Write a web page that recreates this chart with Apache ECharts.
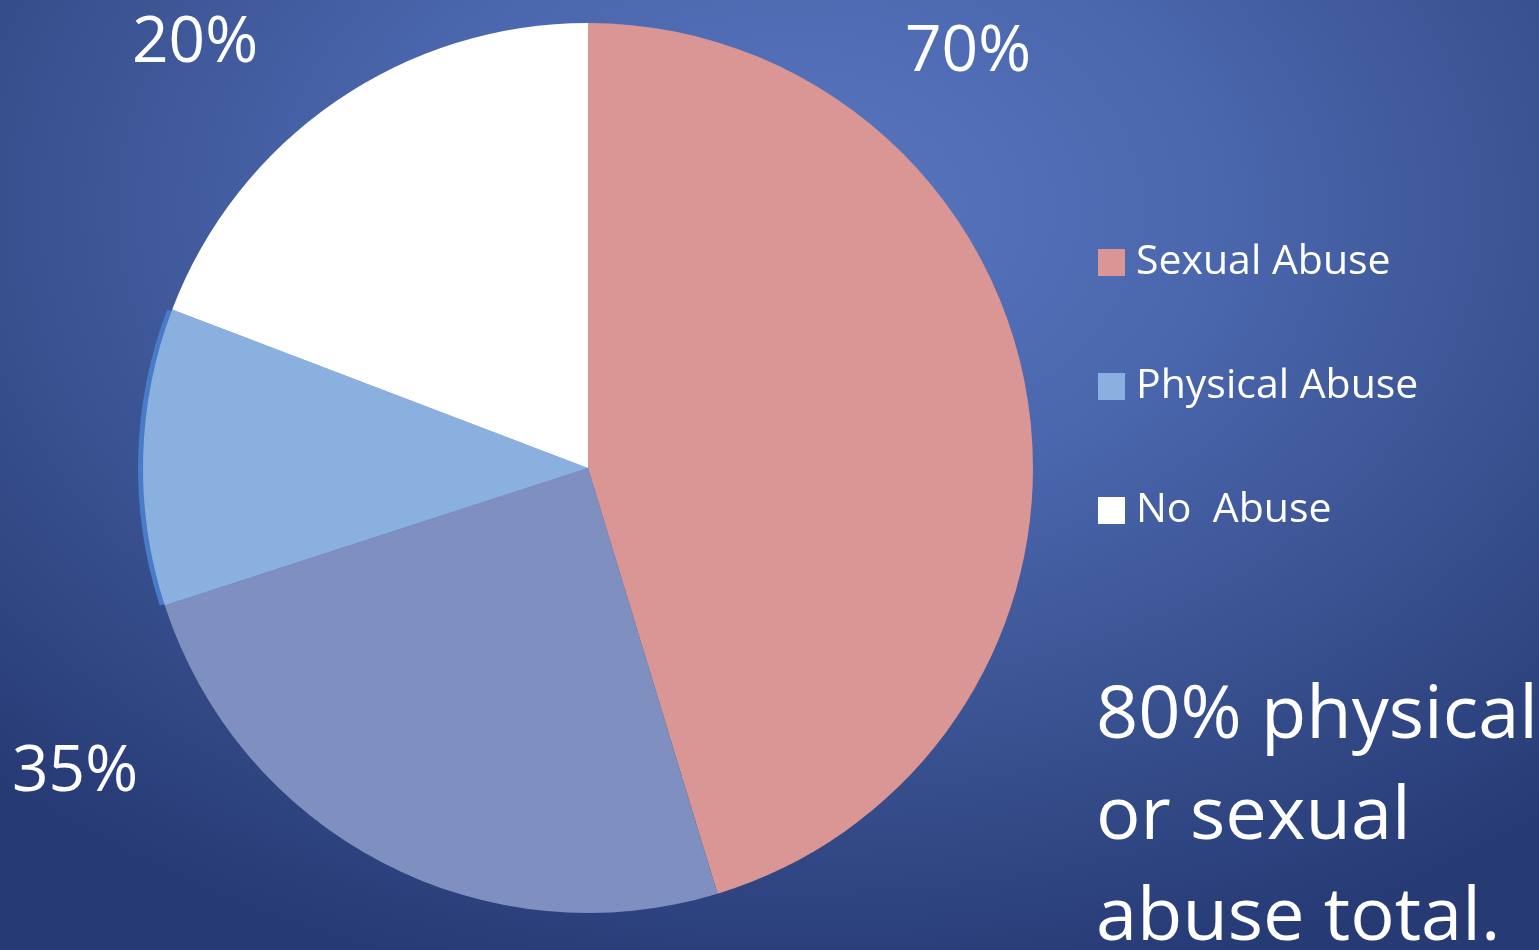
<!DOCTYPE html>
<html>
<head>
<meta charset="utf-8">
<script src="https://cdn.jsdelivr.net/npm/echarts@6/dist/echarts.min.js"></script>
<style>
  html, body { margin: 0; padding: 0; }
  #chart {
    width: 1539px; height: 950px;
    background: radial-gradient(ellipse 75% 85% at 52% 22%, #5876bf 0%, #4b67ae 35%, #3a5392 65%, #263a74 100%);
  }
</style>
</head>
<body>
<div id="chart"></div>
<script>
// slice names, clockwise from 12 o'clock
const sliceNames = ['Sexual Abuse', '', 'Physical Abuse', 'No  Abuse']
const sliceValues = [45.3, 24.7, 10.8, 19.2]
const sliceColors = ['#d99694', '#7f90c0', '#8ab0e0', '#ffffff']
const legendNames = ['Sexual Abuse', 'Physical Abuse', 'No  Abuse']
const calloutLabels = ['70%', '20%', '35%']
const noteLines = ['80% physical', 'or sexual', 'abuse total.']

const chart = echarts.init(document.getElementById('chart'))
const font = '"Open Sans", "Noto Sans", sans-serif'

const option = {
  backgroundColor: 'transparent',
  animation: false,
  legend: {
    data: legendNames,
    orient: 'vertical',
    left: 1098,
    top: 242,
    padding: 0,
    itemWidth: 27,
    itemHeight: 27,
    itemGap: 83,
    icon: 'rect',
    textStyle: {
      color: '#fff',
      fontSize: 41,
      fontFamily: font,
      lineHeight: 41,
      padding: [0, 0, 0, 6]
    }
  },
  graphic: [
    { type: 'text', left: 905, top: 21, style: { text: calloutLabels[0], fill: '#fff', font: '64px ' + font } },
    { type: 'text', left: 132, top: 12, style: { text: calloutLabels[1], fill: '#fff', font: '64px ' + font } },
    { type: 'text', left: 12, top: 741, style: { text: calloutLabels[2], fill: '#fff', font: '64px ' + font } },
    {
      type: 'text', left: 1096, top: 666,
      style: { text: noteLines.join('\n'), fill: '#fff', font: '74px ' + font, lineHeight: 101 }
    }
  ],
  series: [
    {
      type: 'pie',
      center: [588, 468],
      radius: 445,
      startAngle: 90,
      clockwise: true,
      label: { show: false },
      labelLine: { show: false },
      emphasis: { disabled: true },
      data: sliceNames.map((n, i) => ({
        name: n,
        value: sliceValues[i],
        itemStyle: i === 2
          ? { color: sliceColors[i], shadowColor: '#4a7bc8', shadowBlur: 0, shadowOffsetX: -5 }
          : { color: sliceColors[i] }
      }))
    }
  ]
}
chart.setOption(option)
</script>
</body>
</html>
